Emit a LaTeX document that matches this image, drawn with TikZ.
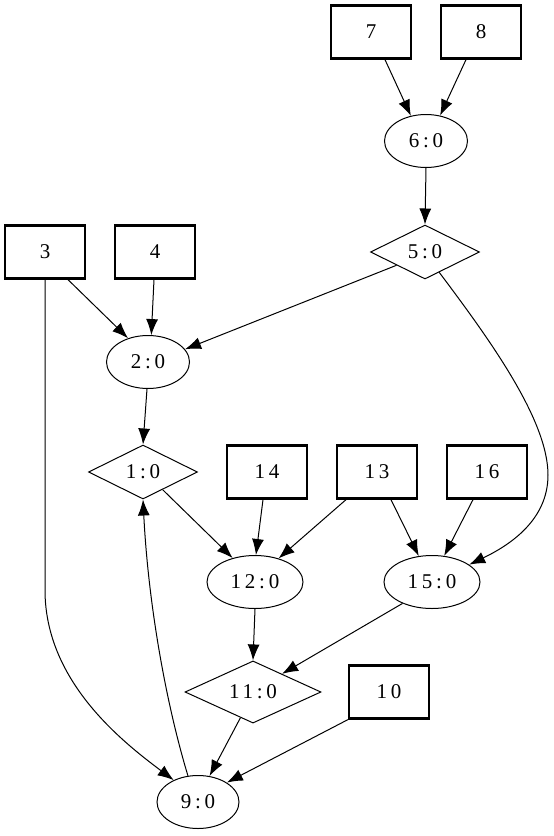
\documentclass[tikz,border=0pt]{standalone}
\usepackage{fontspec}
\setmainfont{Liberation Serif}[LetterSpace=18]
\usetikzlibrary{shapes.geometric,arrows.meta}
\tikzset{
  box/.style={draw, line width=2.3pt, rectangle, minimum width=80pt, minimum height=53pt, inner sep=0pt},
  ell/.style={draw, line width=1pt, ellipse, minimum width=83pt, minimum height=53pt, inner sep=0pt},
  dia/.style={draw, line width=1pt, diamond, minimum width=109pt, minimum height=54pt, inner sep=0pt},
  edge/.style={line width=1pt, -{Latex[length=16pt,width=12pt]}},
}
\begin{document}
\begin{tikzpicture}[x=1pt,y=-1pt,font=\fontsize{21}{24}\selectfont]
\useasboundingbox (0,0) rectangle (554,836);
\node[box] (n7) at (371,32) {7};
\node[box] (n8) at (481,32) {8};
\node[ell] (n6) at (426,141) {6:0};
\node[dia] (n5) at (425,252) {5:0};
\node[box] (n3) at (45,252) {3};
\node[box] (n4) at (155,252) {4};
\node[ell] (n2) at (148,362) {2:0};
\node[dia] (n1) at (143,472) {1:0};
\node[box] (n14) at (267,472) {14};
\node[box] (n13) at (377,472) {13};
\node[box] (n16) at (487,472) {16};
\node[ell, minimum width=96pt] (n12) at (255,582) {12:0};
\node[ell, minimum width=96pt] (n15) at (432,582) {15:0};
\node[dia, minimum width=136pt] (n11) at (253,692) {11:0};
\node[box] (n10) at (389,692) {10};
\node[ell, minimum width=82pt] (n9) at (198,802) {9:0};

\draw[edge] ([xshift=14pt]n7.south) -- (n6.121);
\draw[edge] ([xshift=-15pt]n8.south) -- (n6.61);
\draw[edge] (n6.south) -- (n5.north);
\draw[edge] (n5.205) -- (n2.19);
\draw[edge] (n5.-55) .. controls (490,340) and (548,420) .. (548,475) .. controls (548,520) and (510,545) .. (n15.25);
\draw[edge] ([xshift=23pt]n3.south) -- (n2.130);
\draw[edge] ([xshift=-1pt]n4.south) -- (n2.83);
\draw[edge] ([xshift=-1pt]n2.south) -- (n1.north);
\draw[edge] (n3.south) -- (45,590) .. controls (45,680) and (120,740) .. (n9.138);
\draw[edge] (n9.111) .. controls (165,700) and (148,600) .. (n1.south);
\draw[edge] (n1.-42) -- (n12.133);
\draw[edge] ([xshift=-4pt]n14.south) -- (n12.88);
\draw[edge] ([xshift=-31pt]n13.south) -- (n12.45);
\draw[edge] ([xshift=14pt]n13.south) -- (n15.117);
\draw[edge] ([xshift=-14pt]n16.south) -- (n15.65);
\draw[edge] (n12.south) -- (n11.north);
\draw[edge] (n15.216) -- (n11.32);
\draw[edge] (n11.244) -- (n9.66);
\draw[edge] (n10.south west) -- (n9.34);
\end{tikzpicture}
\end{document}
